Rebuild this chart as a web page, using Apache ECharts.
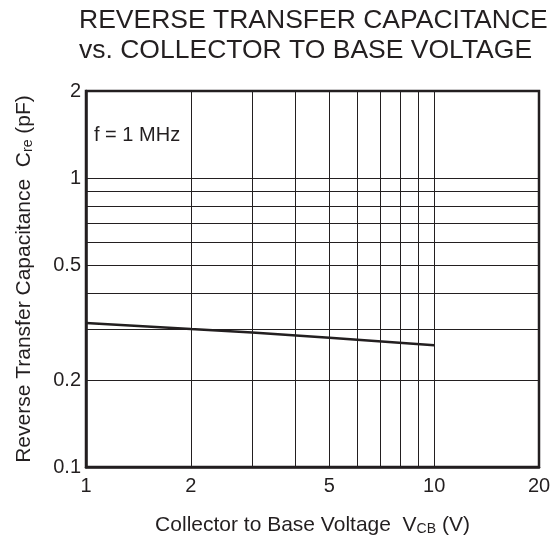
<!DOCTYPE html>
<html><head><meta charset="utf-8">
<script src="https://cdn.jsdelivr.net/npm/echarts@6/dist/echarts.min.js"></script>
<style>html,body{margin:0;padding:0;background:#fff}#c{width:558px;height:543px}</style>
</head><body><div id="c"></div>
<script>
const voltage = [1, 2, 3, 5, 10];
const capacitance = [0.315, 0.300, 0.292, 0.280, 0.264];
const xTicks = [1, 2, 3, 4, 5, 6, 7, 8, 9, 10, 20];
const xLabels = [1, 2, 5, 10, 20];
const yTicks = [0.1, 0.2, 0.3, 0.4, 0.5, 0.6, 0.7, 0.8, 0.9, 1, 2];
const yLabels = [0.1, 0.2, 0.5, 1, 2];

const ink = '#231f20';
const font = '"Liberation Sans", Arial, Helvetica, sans-serif';
const chart = echarts.init(document.getElementById('c'));
chart.setOption({
  animation: false,
  backgroundColor: '#fff',
  textStyle: { fontFamily: font, color: ink },
  title: {
    text: 'REVERSE TRANSFER CAPACITANCE\nvs. COLLECTOR TO BASE VOLTAGE',
    left: 79, top: 6, padding: 0,
    textStyle: { fontFamily: font, fontSize: 26.5, fontWeight: 'normal', color: ink, lineHeight: 30 }
  },
  graphic: [{
    type: 'text', left: 94, top: 125,
    style: { text: 'f = 1 MHz', fontFamily: font, fontSize: 20, fill: ink }
  }],
  grid: { left: 86, right: 19, top: 91, bottom: 76, show: true, borderColor: ink, borderWidth: 2.5, backgroundColor: 'transparent' },
  xAxis: {
    type: 'log', logBase: 10, min: 1, max: 20,
    name: '{a|Collector to Base Voltage  V}{s|CB}{a| (V)}',
    nameLocation: 'middle', nameGap: 48,
    nameTextStyle: { rich: { a: { fontSize: 21, fontFamily: font, color: ink }, s: { fontSize: 14, fontFamily: font, color: ink, verticalAlign: 'bottom', padding: [3, 0, 0, 0] } } },
    axisLine: { show: true, lineStyle: { color: ink, width: 2.5 } },
    axisTick: { show: false, customValues: xTicks },
    axisLabel: { customValues: xLabels, fontSize: 20, fontFamily: font, color: ink, margin: 9, formatter: v => String(v) },
    splitLine: { show: true, lineStyle: { color: ink, width: 1 } },
    minorSplitLine: { show: false }
  },
  yAxis: {
    type: 'log', logBase: 10, min: 0.1, max: 2,
    name: '{a|Reverse Transfer Capacitance  C}{s|re}{a| (pF)}',
    nameLocation: 'middle', nameGap: 51,
    nameTextStyle: { rich: { a: { fontSize: 21, fontFamily: font, color: ink }, s: { fontSize: 14, fontFamily: font, color: ink, verticalAlign: 'bottom', padding: [3, 0, 0, 0] } } },
    axisLine: { show: true, lineStyle: { color: ink, width: 2.5 } },
    axisTick: { show: false, customValues: yTicks },
    axisLabel: { customValues: yLabels, fontSize: 20, fontFamily: font, color: ink, margin: 5, formatter: v => String(v) },
    splitLine: { show: true, lineStyle: { color: ink, width: 1 } }
  },
  series: [{
    type: 'line',
    data: voltage.map((v, i) => [v, capacitance[i]]),
    showSymbol: false, symbol: 'none',
    lineStyle: { color: ink, width: 2.5 }
  }]
});
</script></body></html>
